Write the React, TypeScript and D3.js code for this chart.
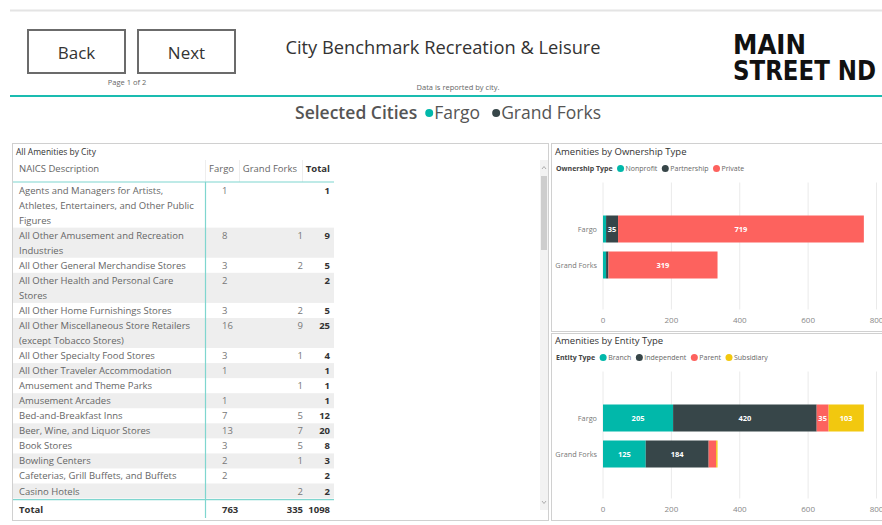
import React from "react";
import * as d3 from "d3";

// ---------- DATA ----------
const naicsDescriptions = [
  "Agents and Managers for Artists,\nAthletes, Entertainers, and Other Public\nFigures",
  "All Other Amusement and Recreation\nIndustries",
  "All Other General Merchandise Stores",
  "All Other Health and Personal Care\nStores",
  "All Other Home Furnishings Stores",
  "All Other Miscellaneous Store Retailers\n(except Tobacco Stores)",
  "All Other Specialty Food Stores",
  "All Other Traveler Accommodation",
  "Amusement and Theme Parks",
  "Amusement Arcades",
  "Bed-and-Breakfast Inns",
  "Beer, Wine, and Liquor Stores",
  "Book Stores",
  "Bowling Centers",
  "Cafeterias, Grill Buffets, and Buffets",
  "Casino Hotels",
];
const fargoCounts: (number | null)[] = [1, 8, 3, 2, 3, 16, 3, 1, null, 1, 7, 13, 3, 2, 2, null];
const grandForksCounts: (number | null)[] = [null, 1, 2, null, 2, 9, 1, null, 1, null, 5, 7, 5, 1, null, 2];
const rowTotals = [1, 9, 5, 2, 5, 25, 4, 1, 1, 1, 12, 20, 8, 3, 2, 2];
const columnTotals = [763, 335, 1098];
const tableHeaders = ["NAICS Description", "Fargo", "Grand Forks", "Total"];

const cities = ["Fargo", "Grand Forks"];
const ownershipTypes = ["Nonprofit", "Partnership", "Private"];
const ownershipFargo = [9, 35, 719];
const ownershipGrandForks = [9, 7, 319];
const entityTypes = ["Branch", "Independent", "Parent", "Subsidiary"];
const entityFargo = [205, 420, 35, 103];
const entityGrandForks = [125, 184, 22, 4];
const xTicks = [0, 200, 400, 600, 800];
const palette = ["#01B8AA", "#374649", "#FD625E", "#F2C80F"];

const FONT = "'Segoe UI', 'Open Sans', 'Noto Sans', sans-serif";

let ctx: CanvasRenderingContext2D | null = null;
function measure(text: string, font: string): number {
  if (!ctx) ctx = document.createElement("canvas").getContext("2d");
  if (!ctx) return text.length * 4;
  ctx.font = font;
  return ctx.measureText(text).width;
}

// ---------- STACKED BAR PANEL ----------
function StackedPanel(props: {
  top: number;
  title: string;
  legendTitle: string;
  keys: string[];
  rows: number[][];
}) {
  const { top, title, legendTitle, keys, rows } = props;
  const x = d3.scaleLinear().domain([0, 800]).range([603, 876.5]);
  const bandTop = top + 68.5;
  const y = d3
    .scaleBand<string>()
    .domain(cities)
    .range([bandTop, bandTop + 72])
    .paddingInner(0.25)
    .paddingOuter(0.125);
  const data = cities.map((c, i) => {
    const o: any = { city: c };
    keys.forEach((k, j) => (o[k] = rows[i][j]));
    return o;
  });
  const series = d3.stack<any>().keys(keys)(data);
  const gridTop = top + 40;
  const gridBottom = top + 167;
  const tickY = top + 180;

  const legendFontSize = 7;
  const legendY = top + 26;
  const titleFont = `bold ${legendFontSize}px ${FONT}`;
  const itemFont = `${legendFontSize}px ${FONT}`;
  let cx = 556 + measure(legendTitle, titleFont) + 8;
  const items = keys.map((k, i) => {
    const it = { k, dot: cx, tx: cx + 5, color: palette[i] };
    cx = cx + 5 + measure(k, itemFont) + 8;
    return it;
  });

  return (
    <g>
      <text x={555} y={top + 12} fontSize={9.5} fill="#333" fontFamily={FONT}>
        {title}
      </text>
      <text x={556} y={legendY + 2.5} fontSize={legendFontSize} fontWeight="bold" fill="#444" fontFamily={FONT}>
        {legendTitle}
      </text>
      {items.map((it) => (
        <g key={it.k}>
          <circle cx={it.dot} cy={legendY} r={3.5} fill={it.color} />
          <text x={it.tx} y={legendY + 2.5} fontSize={legendFontSize} fill="#666" fontFamily={FONT}>
            {it.k}
          </text>
        </g>
      ))}
      {xTicks.map((t) => (
        <g key={t}>
          <line x1={x(t)} x2={x(t)} y1={gridTop} y2={gridBottom} stroke="#eaeaea" strokeWidth={1} />
          <text x={x(t)} y={tickY} fontSize={8} fill="#888" textAnchor="middle" fontFamily={FONT}>
            {t}
          </text>
        </g>
      ))}
      {cities.map((c) => (
        <text
          key={c}
          x={597}
          y={(y(c) as number) + y.bandwidth() / 2 + 3}
          fontSize={7.3}
          fill="#777"
          textAnchor="end"
          fontFamily={FONT}
        >
          {c}
        </text>
      ))}
      {series.map((s, i) => (
        <g key={s.key}>
          {s.map((d, j) => {
            const x0 = x(d[0]);
            const x1 = x(d[1]);
            const w = x1 - x0;
            const yy = y(cities[j]) as number;
            const v = d[1] - d[0];
            return (
              <g key={j}>
                <rect x={x0} y={yy} width={Math.max(0, w)} height={y.bandwidth()} fill={palette[i]} />
                {w >= 10 && (
                  <text
                    x={(x0 + x1) / 2}
                    y={yy + y.bandwidth() / 2 + 3}
                    fontSize={7.5}
                    fontWeight="bold"
                    fill="#fff"
                    textAnchor="middle"
                    fontFamily={FONT}
                  >
                    {v}
                  </text>
                )}
              </g>
            );
          })}
        </g>
      ))}
    </g>
  );
}

// ---------- TABLE ----------
function Table() {
  const lineH = 15.05;
  const firstTop = 182.5;
  let cursor = firstTop;
  const rowsLayout = naicsDescriptions.map((desc, i) => {
    const lines = desc.split("\n");
    const r = { top: cursor, h: lines.length * lineH, lines, i };
    cursor += lines.length * lineH;
    return r;
  });
  const totalTop = cursor;
  const fs = 9.5;
  const txtColor = "#666";
  return (
    <g fontFamily={FONT}>
      <rect x={12.5} y={143.5} width={536} height={377} fill="#fff" stroke="#d0d0d0" strokeWidth={1} />
      <text x={16} y={155} fontSize={8.5} fill="#333">
        All Amenities by City
      </text>
      <line x1={205.5} x2={205.5} y1={160} y2={182} stroke="#eee" />
      <line x1={239.5} x2={239.5} y1={160} y2={182} stroke="#eee" />
      <line x1={302.5} x2={302.5} y1={160} y2={182} stroke="#eee" />
      <text x={19} y={171.5} fontSize={fs} fill={txtColor}>
        {tableHeaders[0]}
      </text>
      <text x={234} y={171.5} fontSize={fs} fill={txtColor} textAnchor="end">
        {tableHeaders[1]}
      </text>
      <text x={297} y={171.5} fontSize={fs} fill={txtColor} textAnchor="end">
        {tableHeaders[2]}
      </text>
      <text x={330} y={171.5} fontSize={fs} fill="#333" fontWeight="bold" textAnchor="end">
        {tableHeaders[3]}
      </text>
      {rowsLayout.map((r) => (
        <g key={r.i}>
          {r.i % 2 === 1 && <rect x={13} y={r.top} width={321} height={r.h} fill="#eeeeee" />}
          {r.lines.map((ln, k) => (
            <text key={k} x={19} y={r.top + 11 + k * lineH} fontSize={fs} fill={txtColor}>
              {ln}
            </text>
          ))}
          {fargoCounts[r.i] != null && (
            <text x={222} y={r.top + 11} fontSize={fs} fill="#777">
              {fargoCounts[r.i]}
            </text>
          )}
          {grandForksCounts[r.i] != null && (
            <text x={303} y={r.top + 11} fontSize={fs} fill="#777" textAnchor="end">
              {grandForksCounts[r.i]}
            </text>
          )}
          <text x={330} y={r.top + 11} fontSize={fs} fill="#333" fontWeight="bold" textAnchor="end">
            {rowTotals[r.i]}
          </text>
        </g>
      ))}
      <line x1={13} x2={334} y1={182} y2={182} stroke="#7fd6cf" strokeWidth={1.2} />
      <line x1={205.5} x2={205.5} y1={182} y2={518} stroke="#7fd6cf" strokeWidth={1.2} />
      <line x1={13} x2={334} y1={totalTop + 1} y2={totalTop + 1} stroke="#7fd6cf" strokeWidth={1.2} />
      <text x={19} y={totalTop + 14} fontSize={fs} fill="#333" fontWeight="bold">
        Total
      </text>
      <text x={222} y={totalTop + 14} fontSize={fs} fill="#333" fontWeight="bold">
        {columnTotals[0]}
      </text>
      <text x={303} y={totalTop + 14} fontSize={fs} fill="#333" fontWeight="bold" textAnchor="end">
        {columnTotals[1]}
      </text>
      <text x={330} y={totalTop + 14} fontSize={fs} fill="#333" fontWeight="bold" textAnchor="end">
        {columnTotals[2]}
      </text>
      <rect x={540} y={160} width={8} height={350} fill="#f2f2f2" />
      <rect x={541} y={176} width={6} height={74} fill="#cdcdcd" />
      <path d="M542,169 L544,166.5 L546,169" fill="none" stroke="#999" strokeWidth={0.8} />
      <path d="M542,501 L544,503.5 L546,501" fill="none" stroke="#999" strokeWidth={0.8} />
    </g>
  );
}

function SelectedCities() {
  const fs = 17.5;
  const boldFont = `600 ${fs}px ${FONT}`;
  const regFont = `${fs}px ${FONT}`;
  const parts = [
    { t: "Selected Cities", w: measure("Selected Cities", boldFont), bold: true, dot: null as string | null },
    { t: "Fargo", w: measure("Fargo", regFont), bold: false, dot: palette[0] },
    { t: "Grand Forks", w: measure("Grand Forks", regFont), bold: false, dot: palette[1] },
  ];
  const dotSpace = 17;
  const gap = 4;
  const total = parts.reduce((a, p) => a + p.w + (p.dot ? dotSpace : 0), 0) + gap * 2;
  let cx = 450 - total / 2;
  const out: any[] = [];
  parts.forEach((p, i) => {
    if (p.dot) {
      out.push(<circle key={"d" + i} cx={cx + 8} cy={113} r={4} fill={p.dot} />);
      cx += dotSpace - 4;
    }
    out.push(
      <text key={"t" + i} x={cx} y={118.5} fontSize={fs} fill="#555" fontWeight={p.bold ? 600 : 400} fontFamily={FONT}>
        {p.t}
      </text>
    );
    cx += p.w + gap + (p.dot ? 4 : 0);
  });
  return <g>{out}</g>;
}

export default function App() {
  const logoFont = "'DejaVu Sans Condensed', 'Liberation Sans Narrow', 'DejaVu Sans', sans-serif";
  return (
    <svg
      width={882}
      height={525}
      style={{ position: "absolute", left: 0, top: 0, background: "#fff" }}
      fontFamily={FONT}
    >
      <rect x={0} y={0} width={882} height={525} fill="#fff" />
      <line x1={10} x2={882} y1={10.5} y2={10.5} stroke="#e4e4e4" strokeWidth={2} />
      <rect x={28} y={30} width={97} height={43} fill="#fff" stroke="#6b6b6b" strokeWidth={2} />
      <text x={76.5} y={58.5} fontSize={17} fill="#333" textAnchor="middle">
        Back
      </text>
      <rect x={138} y={30} width={97} height={43} fill="#fff" stroke="#6b6b6b" strokeWidth={2} />
      <text x={186.5} y={58.5} fontSize={17} fill="#333" textAnchor="middle">
        Next
      </text>
      <text x={127} y={84.5} fontSize={7.5} fill="#666" textAnchor="middle">
        Page 1 of 2
      </text>
      <text x={443} y={53.5} fontSize={18.3} fill="#333" textAnchor="middle">
        City Benchmark Recreation &amp; Leisure
      </text>
      <text x={458} y={89.5} fontSize={7.5} fill="#666" textAnchor="middle">
        Data is reported by city.
      </text>
      <text
        x={733}
        y={54}
        fontSize={27}
        fontWeight="bold"
        fill="#111"
        fontFamily={logoFont}
        textLength={73}
        lengthAdjust="spacingAndGlyphs"
      >
        MAIN
      </text>
      <text
        x={733}
        y={80}
        fontSize={27}
        fontWeight="bold"
        fill="#111"
        fontFamily={logoFont}
        textLength={143}
        lengthAdjust="spacingAndGlyphs"
      >
        STREET ND
      </text>
      <line x1={10} x2={882} y1={96} y2={96} stroke="#1ABCB0" strokeWidth={2} />
      <SelectedCities />

      <Table />

      <line x1={551} x2={882} y1={143.5} y2={143.5} stroke="#d0d0d0" />
      <line x1={551.5} x2={551.5} y1={143} y2={331} stroke="#d0d0d0" />
      <line x1={551} x2={882} y1={331.5} y2={331.5} stroke="#d0d0d0" />
      <line x1={551} x2={882} y1={333.5} y2={333.5} stroke="#d0d0d0" />
      <line x1={551.5} x2={551.5} y1={333} y2={520} stroke="#d0d0d0" />
      <line x1={551} x2={882} y1={520.5} y2={520.5} stroke="#d0d0d0" />
      <StackedPanel
        top={142.5}
        title="Amenities by Ownership Type"
        legendTitle="Ownership Type"
        keys={ownershipTypes}
        rows={[ownershipFargo, ownershipGrandForks]}
      />
      <StackedPanel
        top={331.5}
        title="Amenities by Entity Type"
        legendTitle="Entity Type"
        keys={entityTypes}
        rows={[entityFargo, entityGrandForks]}
      />
    </svg>
  );
}
